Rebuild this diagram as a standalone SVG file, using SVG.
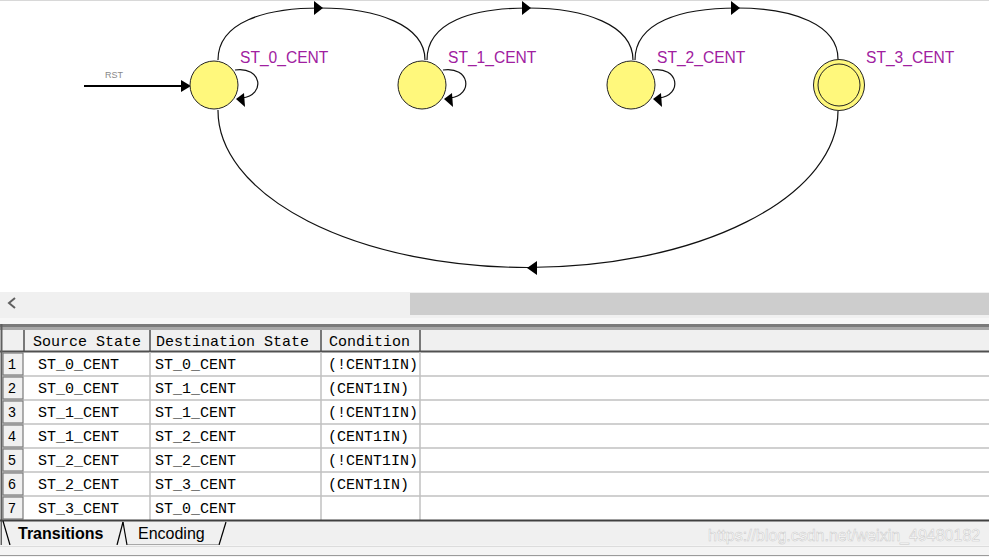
<svg xmlns="http://www.w3.org/2000/svg" width="989" height="557" viewBox="0 0 989 557">
<style>
.node{fill:#fff87c;stroke:#222;stroke-width:1}
.lbl{font-family:"Liberation Sans",Arial,sans-serif;font-size:15.6px;fill:#a020a0}
.edge{fill:none;stroke:#111;stroke-width:1.2}
.ah{fill:#000}
.mono{font-family:"Liberation Mono","DejaVu Sans Mono",monospace;font-size:15px;fill:#000}
.num{font-family:"Liberation Mono","DejaVu Sans Mono",monospace;font-size:14px;fill:#000;text-anchor:middle}
.grid{stroke:#c0c0c0;stroke-width:1.5}
.hsep{stroke:#505050;stroke-width:1.5}
</style>
<rect width="989" height="557" fill="#fff"/>
<line x1="0" y1="0.5" x2="989" y2="0.5" stroke="#d8d8d8"/>

<g id="connectors">
  <line x1="84" y1="86" x2="184" y2="86" stroke="#000" stroke-width="2"/>
  <polygon class="ah" points="191,86 181,80 181,92"/>
  <path class="edge" d="M218 60 C218 22 265 8 320 8 C377 8 425 25 425 60"/>
  <polygon class="ah" points="323,8 314,1 314,15"/>
  <path class="edge" d="M427 60 C427 22 472 8 528 8 C585 8 633 25 633 60"/>
  <polygon class="ah" points="531,8 522,1 522,15"/>
  <path class="edge" d="M635 60 C635 22 681 8 737 8 C794 8 838 25 838 59"/>
  <polygon class="ah" points="740,8 731,1 731,15"/>
  <path class="edge" d="M838 111 A310 157 0 0 1 218 110"/>
  <polygon class="ah" points="527,268 537,261 537,275"/>
  <path class="edge" d="M235 70 C262 66 266 95 242 98"/>
  <polygon class="ah" points="236,99 244,93 245,107"/>
  <path class="edge" d="M443 70 C470 66 474 95 450 98"/>
  <polygon class="ah" points="444,99 452,93 453,107"/>
  <path class="edge" d="M652 70 C679 66 683 95 659 98"/>
  <polygon class="ah" points="653,99 661,93 662,107"/>
</g>

<g id="rst"><text x="105" y="78" font-family="Liberation Sans,Arial,sans-serif" font-size="9" fill="#888">RST</text></g>
<g id="st0"><circle class="node" cx="214" cy="85" r="24"/><text class="lbl" x="240" y="63">ST_0_CENT</text></g>
<g id="st1"><circle class="node" cx="422" cy="85" r="24"/><text class="lbl" x="448" y="63">ST_1_CENT</text></g>
<g id="st2"><circle class="node" cx="631" cy="85" r="24"/><text class="lbl" x="657" y="63">ST_2_CENT</text></g>
<g id="st3"><circle class="node" cx="839" cy="85" r="25.5"/><circle cx="839" cy="85" r="21" fill="none" stroke="#222"/><text class="lbl" x="866" y="63">ST_3_CENT</text></g>

<g id="scrollbar">
  <rect x="0" y="292" width="989" height="26" fill="#f0f0f0"/>
  <rect x="410" y="293" width="579" height="22" fill="#cdcdcd"/>
  <polyline points="15,298 9,303 15,308" fill="none" stroke="#606060" stroke-width="2"/>
  <rect x="0" y="318" width="989" height="6" fill="#f7f7f7"/>
</g>

<g id="table">
  <rect x="0" y="324" width="989" height="3" fill="#7a7a7a"/>
  <rect x="0" y="327" width="989" height="3" fill="#a8a8a8"/>
  <rect x="2" y="330" width="987" height="21" fill="#f0f0f0"/>
  <line x1="0" y1="351.5" x2="989" y2="351.5" stroke="#505050" stroke-width="2"/>
  <line x1="1.5" y1="324" x2="1.5" y2="546" stroke="#606060" stroke-width="2"/>
  <line class="hsep" x1="24" y1="330" x2="24" y2="351"/>
  <line class="hsep" x1="150" y1="330" x2="150" y2="351"/>
  <line class="hsep" x1="321" y1="330" x2="321" y2="351"/>
  <line class="hsep" x1="420" y1="330" x2="420" y2="351"/>
  <text class="mono" x="33" y="346">Source State</text>
  <text class="mono" x="156" y="346">Destination State</text>
  <text class="mono" x="329" y="346">Condition</text>
  <g>
    <line class="grid" x1="2" y1="376" x2="989" y2="376"/>
    <line class="grid" x1="2" y1="400" x2="989" y2="400"/>
    <line class="grid" x1="2" y1="424" x2="989" y2="424"/>
    <line class="grid" x1="2" y1="448" x2="989" y2="448"/>
    <line class="grid" x1="2" y1="472" x2="989" y2="472"/>
    <line class="grid" x1="2" y1="496" x2="989" y2="496"/>
    <line class="grid" x1="150" y1="352" x2="150" y2="520"/>
    <line class="grid" x1="321" y1="352" x2="321" y2="520"/>
    <line class="grid" x1="420" y1="352" x2="420" y2="520"/>
  </g>
  <g fill="#f0f0f0" stroke="#7a7a7a" stroke-width="1.2">
    <rect x="3" y="353" width="20" height="22"/>
    <rect x="3" y="377" width="20" height="22"/>
    <rect x="3" y="401" width="20" height="22"/>
    <rect x="3" y="425" width="20" height="22"/>
    <rect x="3" y="449" width="20" height="22"/>
    <rect x="3" y="473" width="20" height="22"/>
    <rect x="3" y="497" width="20" height="22"/>
  </g>
  <text class="num" x="12" y="369">1</text>
  <text class="num" x="12" y="393">2</text>
  <text class="num" x="12" y="417">3</text>
  <text class="num" x="12" y="441">4</text>
  <text class="num" x="12" y="465">5</text>
  <text class="num" x="12" y="489">6</text>
  <text class="num" x="12" y="513">7</text>
  <g class="mono">
    <text x="38" y="369">ST_0_CENT</text><text x="155" y="369">ST_0_CENT</text><text x="328" y="369">(!CENT1IN)</text>
    <text x="38" y="393">ST_0_CENT</text><text x="155" y="393">ST_1_CENT</text><text x="328" y="393">(CENT1IN)</text>
    <text x="38" y="417">ST_1_CENT</text><text x="155" y="417">ST_1_CENT</text><text x="328" y="417">(!CENT1IN)</text>
    <text x="38" y="441">ST_1_CENT</text><text x="155" y="441">ST_2_CENT</text><text x="328" y="441">(CENT1IN)</text>
    <text x="38" y="465">ST_2_CENT</text><text x="155" y="465">ST_2_CENT</text><text x="328" y="465">(!CENT1IN)</text>
    <text x="38" y="489">ST_2_CENT</text><text x="155" y="489">ST_3_CENT</text><text x="328" y="489">(CENT1IN)</text>
    <text x="38" y="513">ST_3_CENT</text><text x="155" y="513">ST_0_CENT</text>
  </g>
</g>

<g id="tabs">
  <rect x="2" y="521" width="987" height="24" fill="#f0f0f0"/>
  <line x1="0" y1="520.5" x2="989" y2="520.5" stroke="#404040" stroke-width="2"/>
  <line x1="3" y1="521" x2="10" y2="545" stroke="#000" stroke-width="1.2"/>
  <line x1="117" y1="545" x2="123" y2="522" stroke="#000" stroke-width="1.2"/>
  <line x1="123" y1="522" x2="127" y2="545" stroke="#000" stroke-width="1.2"/>
  <line x1="219" y1="545" x2="226" y2="522" stroke="#000" stroke-width="1.2"/>
  <line x1="127" y1="545" x2="219" y2="545" stroke="#606060"/>
  <text x="18" y="539" font-family="Liberation Sans,Arial,sans-serif" font-size="16" font-weight="bold" fill="#000">Transitions</text>
  <text x="138" y="539" font-family="Liberation Sans,Arial,sans-serif" font-size="16" fill="#000">Encoding</text>
  <rect x="0" y="545" width="989" height="12" fill="#f4f4f4"/>
  <line x1="0" y1="546.5" x2="989" y2="546.5" stroke="#dcdcdc"/>
  <line x1="0" y1="555.5" x2="989" y2="555.5" stroke="#9a9a9a"/>
  <text x="708" y="541" font-family="Liberation Sans,Arial,sans-serif" font-size="16" fill="#ffffff" stroke="#c8c8c8" stroke-width="0.5">https://blog.csdn.net/weixin_49480182</text>
</g>
</svg>
